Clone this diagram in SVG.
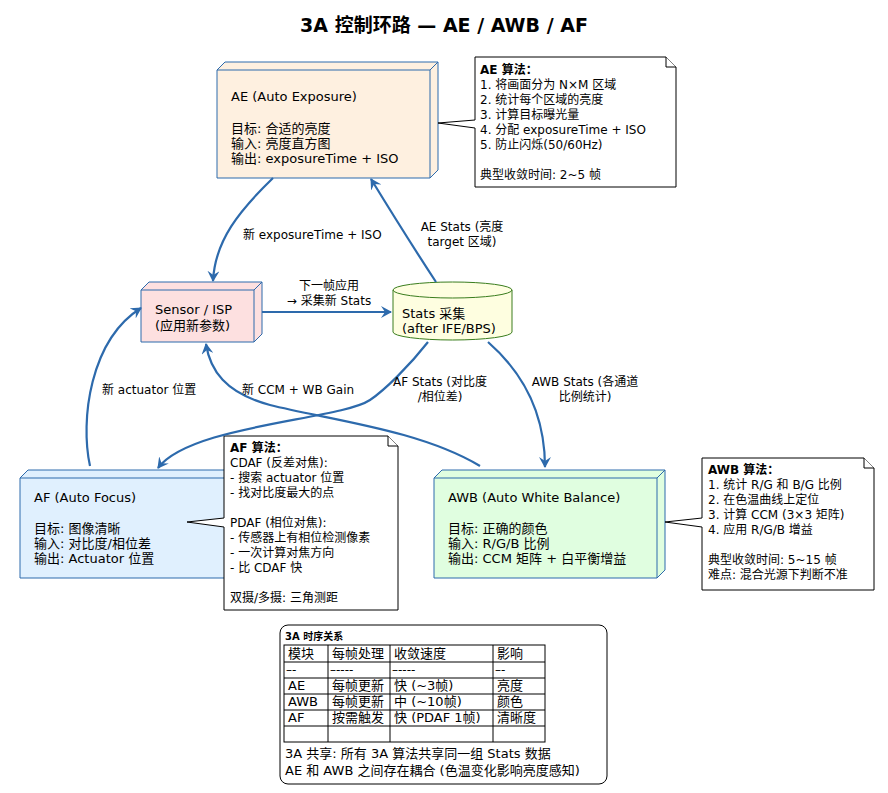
<svg xmlns="http://www.w3.org/2000/svg" width="888" height="793" viewBox="0 0 888 793">
<defs>
<style>
text{font-family:"DejaVu Sans","Noto Sans CJK SC",sans-serif;font-size:13px;fill:#000}
.s{font-size:12px}
.b{font-weight:bold}
.e{fill:none;stroke:#2d6aac;stroke-width:2.2}
.n{stroke:#2d6aac;stroke-width:1}
.note{fill:#fff;stroke:#000;stroke-width:1}
</style>
<marker id="a" viewBox="0 0 12 12" refX="10" refY="6" markerWidth="12" markerHeight="12" markerUnits="userSpaceOnUse" orient="auto"><path d="M0,0 L11,6 L0,12 L4,6 Z" fill="#2d6aac"/></marker>
</defs>
<rect width="888" height="793" fill="#fff"/>
<text x="444" y="32" text-anchor="middle" class="b" style="font-size:19px">3A 控制环路 — AE / AWB / AF</text>

<g id="AE">
<path class="n" fill="#fef0e0" d="M217,70 L225,62 L438,62 L438,170 L430,178 L217,178 Z"/>
<path class="n" fill="none" d="M217,70 L430,70 L438,62 M430,70 L430,178"/>
<text x="231" y="101">AE (Auto Exposure)</text>
<text x="231" y="133">目标: 合适的亮度</text>
<text x="231" y="148">输入: 亮度直方图</text>
<text x="231" y="163">输出: exposureTime + ISO</text>
</g>
<g id="Sensor">
<path class="n" fill="#fde0e0" d="M141,290 L149,282 L262,282 L262,334 L254,342 L141,342 Z"/>
<path class="n" fill="none" d="M141,290 L254,290 L262,282 M254,290 L254,342"/>
<text x="155" y="314">Sensor / ISP</text>
<text x="155" y="330">(应用新参数)</text>
</g>
<g id="Stats">
<path fill="#fefee0" stroke="#3a7d1e" d="M393,290 A59.5,8 0 0 1 512,290 L512,332 A59.5,8 0 0 1 393,332 Z"/>
<path fill="none" stroke="#3a7d1e" d="M393,290 A59.5,8 0 0 0 512,290"/>
<text x="402" y="318">Stats 采集</text>
<text x="402" y="333">(after IFE/BPS)</text>
</g>
<g id="AF">
<path class="n" fill="#e0f0fe" d="M20,478 L28,470 L244,470 L244,570 L236,578 L20,578 Z"/>
<path class="n" fill="none" d="M20,478 L236,478 L244,470 M236,478 L236,578"/>
<text x="34" y="502">AF (Auto Focus)</text>
<text x="34" y="533">目标: 图像清晰</text>
<text x="34" y="548">输入: 对比度/相位差</text>
<text x="34" y="563">输出: Actuator 位置</text>
</g>
<g id="AWB">
<path class="n" fill="#e0fee0" d="M434,478 L442,470 L665,470 L665,570 L657,578 L434,578 Z"/>
<path class="n" fill="none" d="M434,478 L657,478 L665,470 M657,478 L657,578"/>
<text x="448" y="502">AWB (Auto White Balance)</text>
<text x="448" y="533">目标: 正确的颜色</text>
<text x="448" y="548">输入: R/G/B 比例</text>
<text x="448" y="563">输出: CCM 矩阵 + 白平衡增益</text>
</g>

<g id="AE_note">
<path class="note" d="M475,57 L666,57 L676,67 L676,187 L475,187 L475,128 L438,123 L475,120 Z"/>
<path class="note" d="M666,57 L666,67 L676,67"/>
<g class="s"><text x="480" y="74" class="b s">AE 算法：</text>
<text x="480" y="89" class="s">1. 将画面分为 N×M 区域</text>
<text x="480" y="104" class="s">2. 统计每个区域的亮度</text>
<text x="480" y="119" class="s">3. 计算目标曝光量</text>
<text x="480" y="134" class="s">4. 分配 exposureTime + ISO</text>
<text x="480" y="149" class="s">5. 防止闪烁(50/60Hz)</text>
<text x="480" y="179" class="s">典型收敛时间: 2~5 帧</text></g>
</g>
<g id="AF_note">
<path class="note" d="M224,436 L388,436 L398,446 L398,610 L224,610 L224,527 L187,522 L224,518 Z"/>
<path class="note" d="M388,436 L388,446 L398,446"/>
<text x="230" y="452" class="b s">AF 算法：</text>
<text x="230" y="467" class="s">CDAF (反差对焦):</text>
<text x="230" y="482" class="s">- 搜索 actuator 位置</text>
<text x="230" y="497" class="s">- 找对比度最大的点</text>
<text x="230" y="527" class="s">PDAF (相位对焦):</text>
<text x="230" y="542" class="s">- 传感器上有相位检测像素</text>
<text x="230" y="557" class="s">- 一次计算对焦方向</text>
<text x="230" y="572" class="s">- 比 CDAF 快</text>
<text x="230" y="602" class="s">双摄/多摄: 三角测距</text>
</g>
<g id="AWB_note">
<path class="note" d="M702,458 L864,458 L874,468 L874,590 L702,590 L702,527 L665,522 L702,518 Z"/>
<path class="note" d="M864,458 L864,468 L874,468"/>
<text x="708" y="474" class="b s">AWB 算法：</text>
<text x="708" y="489" class="s">1. 统计 R/G 和 B/G 比例</text>
<text x="708" y="504" class="s">2. 在色温曲线上定位</text>
<text x="708" y="519" class="s">3. 计算 CCM (3×3 矩阵)</text>
<text x="708" y="534" class="s">4. 应用 R/G/B 增益</text>
<text x="708" y="564" class="s">典型收敛时间: 5~15 帧</text>
<text x="708" y="579" class="s">难点: 混合光源下判断不准</text>
</g>

<g id="connectors">
<path class="e" marker-end="url(#a)" d="M273,178 C240,210 215,240 213,281"/>
<path class="e" marker-end="url(#a)" d="M436,282 C415,250 390,210 371,179"/>
<path class="e" marker-end="url(#a)" d="M262,312 L391,312"/>
<path class="e" marker-end="url(#a)" d="M428,342 C410,365 385,390 370,400 C340,420 190,425 158,468"/>
<path class="e" marker-end="url(#a)" d="M488,342 C520,370 545,410 545,467"/>
<path class="e" marker-end="url(#a)" d="M90,466 C80,420 90,340 141,308"/>
<path class="e" marker-end="url(#a)" d="M480,466 C420,430 330,420 270,405 C225,393 210,370 206,344"/>
<text x="243" y="239" class="s">新 exposureTime + ISO</text>
<text x="462" y="231" class="s" text-anchor="middle">AE Stats (亮度</text>
<text x="462" y="246" class="s" text-anchor="middle">target 区域)</text>
<text x="329" y="290" class="s" text-anchor="middle">下一帧应用</text>
<text x="329" y="305" class="s" text-anchor="middle">→ 采集新 Stats</text>
<text x="440" y="386" class="s" text-anchor="middle">AF Stats (对比度</text>
<text x="440" y="401" class="s" text-anchor="middle">/相位差)</text>
<text x="585" y="386" class="s" text-anchor="middle">AWB Stats (各通道</text>
<text x="585" y="401" class="s" text-anchor="middle">比例统计)</text>
<text x="102" y="394" class="s">新 actuator 位置</text>
<text x="242" y="394" class="s">新 CCM + WB Gain</text>
</g>

<g id="table">
<rect x="280" y="625" width="327" height="159" rx="8" fill="#fff" stroke="#000"/>
<text x="285" y="640" class="b" style="font-size:10px">3A 时序关系</text>
<g fill="none" stroke="#000" stroke-width="1">
<rect x="284" y="645" width="261" height="97"/>
<path d="M284,662 H545 M284,678 H545 M284,694 H545 M284,710 H545 M284,726 H545 M328,645 V742 M390,645 V742 M493,645 V742"/>
</g>
<text x="288" y="658">模块</text><text x="332" y="658">每帧处理</text><text x="394" y="658">收敛速度</text><text x="497" y="658">影响</text>
<text x="286" y="674" class="s">–-</text><text x="330" y="674" class="s">–----</text><text x="392" y="674" class="s">–----</text><text x="495" y="674" class="s">–-</text>
<text x="288" y="690">AE</text><text x="332" y="690">每帧更新</text><text x="394" y="690">快 (~3帧)</text><text x="497" y="690">亮度</text>
<text x="288" y="706">AWB</text><text x="332" y="706">每帧更新</text><text x="394" y="706">中 (~10帧)</text><text x="497" y="706">颜色</text>
<text x="288" y="722">AF</text><text x="332" y="722">按需触发</text><text x="394" y="722">快 (PDAF 1帧)</text><text x="497" y="722">清晰度</text>
<text x="285" y="758">3A 共享: 所有 3A 算法共享同一组 Stats 数据</text>
<text x="285" y="775">AE 和 AWB 之间存在耦合 (色温变化影响亮度感知)</text>
</g>
</svg>
